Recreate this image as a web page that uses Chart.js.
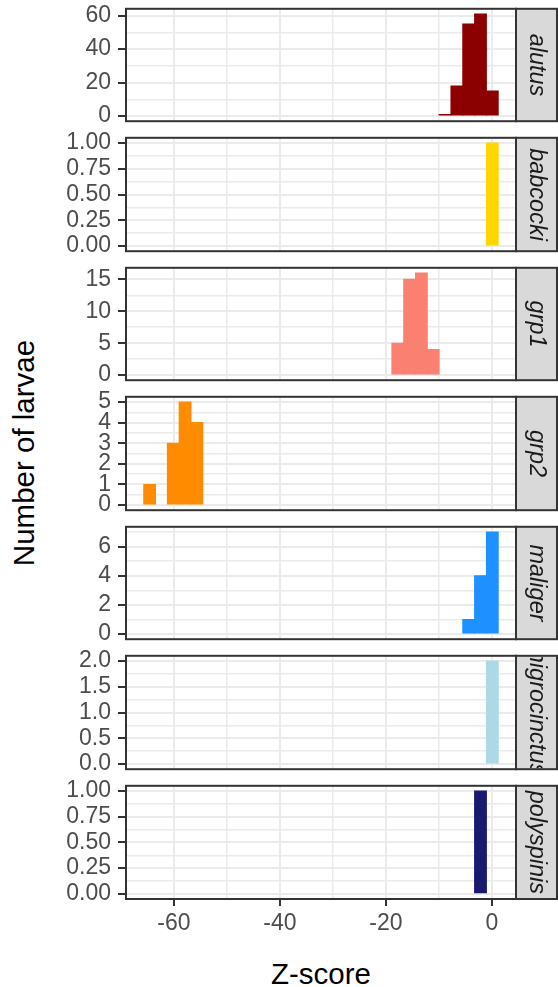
<!DOCTYPE html>
<html>
<head>
<meta charset="utf-8">
<script src="https://cdn.jsdelivr.net/npm/chart.js@4.4.1/dist/chart.umd.min.js"></script>
<style>
  html, body { margin: 0; padding: 0; background: #ffffff; }
  #fig { position: relative; width: 558px; height: 987px; overflow: hidden; background: #ffffff;
         font-family: "Liberation Sans", Arial, sans-serif; }
  #fig canvas { position: absolute; left: 0; }
  .ytitle { position: absolute; left: 23.5px; top: 453px; transform: translate(-50%, -50%) rotate(-90deg);
            font-size: 29.5px; line-height: 29.5px; white-space: nowrap; color: #000000; }
  .xtitle { position: absolute; left: 321px; top: 973.7px; transform: translate(-50%, -50%);
            font-size: 29.5px; line-height: 29.5px; white-space: nowrap; color: #000000; }
</style>
</head>
<body>
<div id="fig">
  <div class="ytitle">Number of larvae</div>
  <div class="xtitle">Z-score</div>
</div>
<script>
// Histogram bin centres on the Z-score axis (30 bins, width about 2.23)
const binCenters = [
  -64.59, -62.36, -60.13, -57.90, -55.67, -53.44, -51.21, -48.98, -46.75, -44.52,
  -42.29, -40.06, -37.83, -35.60, -33.37, -31.14, -28.91, -26.68, -24.45, -22.22,
  -19.99, -17.76, -15.53, -13.30, -11.07, -8.84, -6.61, -4.38, -2.15, 0.08
];

// Facet names, one panel each
const species = ['alutus', 'babcocki', 'grp1', 'grp2', 'maliger', 'nigrocinctus', 'polyspinis'];

// Larvae counts per bin
const alutusCounts       = [0,0,0,0,0, 0,0,0,0,0, 0,0,0,0,0, 0,0,0,0,0, 0,0,0,0,0, 1,18,55,61,15];
const babcockiCounts     = [0,0,0,0,0, 0,0,0,0,0, 0,0,0,0,0, 0,0,0,0,0, 0,0,0,0,0, 0,0,0,0,1];
const grp1Counts         = [0,0,0,0,0, 0,0,0,0,0, 0,0,0,0,0, 0,0,0,0,0, 0,5,15,16,4, 0,0,0,0,0];
const grp2Counts         = [1,0,3,5,4, 0,0,0,0,0, 0,0,0,0,0, 0,0,0,0,0, 0,0,0,0,0, 0,0,0,0,0];
const maligerCounts      = [0,0,0,0,0, 0,0,0,0,0, 0,0,0,0,0, 0,0,0,0,0, 0,0,0,0,0, 0,0,1,4,7];
const nigrocinctusCounts = [0,0,0,0,0, 0,0,0,0,0, 0,0,0,0,0, 0,0,0,0,0, 0,0,0,0,0, 0,0,0,0,2];
const polyspinisCounts   = [0,0,0,0,0, 0,0,0,0,0, 0,0,0,0,0, 0,0,0,0,0, 0,0,0,0,0, 0,0,0,1,0];

const speciesCounts = [alutusCounts, babcockiCounts, grp1Counts, grp2Counts,
                       maligerCounts, nigrocinctusCounts, polyspinisCounts];

// Fill colour per species
const speciesColors = ['#8B0000', '#FFD700', '#FA8072', '#FF8C00', '#1E90FF', '#ADD8E6', '#191970'];

// Labelled y ticks per panel and their decimals
const alutusTicks       = [0, 20, 40, 60];
const babcockiTicks     = [0, 0.25, 0.5, 0.75, 1];
const grp1Ticks         = [0, 5, 10, 15];
const grp2Ticks         = [0, 1, 2, 3, 4, 5];
const maligerTicks      = [0, 2, 4, 6];
const nigrocinctusTicks = [0, 0.5, 1, 1.5, 2];
const polyspinisTicks   = [0, 0.25, 0.5, 0.75, 1];
const yTickSets = [alutusTicks, babcockiTicks, grp1Ticks, grp2Ticks, maligerTicks, nigrocinctusTicks, polyspinisTicks];
const yTickDecimals = [0, 2, 0, 0, 0, 1, 2];

// Labelled x ticks (shared Z-score axis)
const xTickLabels = [-60, -40, -20, 0];
const xMin = -69.05, xMax = 4.55;

// ---- layout ----
const FONT = '"Liberation Sans", Arial, sans-serif';
const PANEL_TOP0 = 8, PANEL_STEP = 129.5, PANEL_H = 114;
const AXIS_W = 126, STRIP_W = 41, PAD = 20, XAXIS_H = 50;

// Major ticks plus a minor one half-way between each pair, kept inside the scale
function withMinor(major, lo, hi) {
  const step = major[1] - major[0];
  const out = [];
  major.forEach(v => {
    out.push({ value: v, major: true });
    out.push({ value: v - step / 2, major: false });
    out.push({ value: v + step / 2, major: false });
  });
  const seen = new Set();
  return out
    .filter(t => t.value >= lo && t.value <= hi)
    .filter(t => { const k = t.value.toFixed(6); if (seen.has(k)) return false; seen.add(k); return true; })
    .sort((a, b) => a.value - b.value);
}

// Panel border and the grey facet strip with its italic label
const facetFrame = {
  id: 'facetFrame',
  afterDraw(chart, args, opts) {
    const { ctx, chartArea: a } = chart;
    const h = a.bottom - a.top;
    ctx.save();
    ctx.fillStyle = '#D9D9D9';
    ctx.fillRect(a.right, a.top, STRIP_W, h);
    ctx.save();
    ctx.beginPath();
    ctx.rect(a.right + 1, a.top + 1, STRIP_W - 2, h - 2);
    ctx.clip();
    ctx.translate(a.right + STRIP_W / 2, (a.top + a.bottom) / 2);
    ctx.rotate(Math.PI / 2);
    ctx.font = 'italic 23.5px ' + FONT;
    ctx.fillStyle = '#1A1A1A';
    ctx.textAlign = 'center';
    ctx.textBaseline = 'middle';
    ctx.fillText(opts.label, 0, 0);
    ctx.restore();
    ctx.strokeStyle = '#333333';
    ctx.lineWidth = 2;
    ctx.strokeRect(a.right, a.top, STRIP_W, h);
    ctx.strokeRect(a.left, a.top, a.right - a.left, h);
    ctx.restore();
  }
};

const fig = document.getElementById('fig');

species.forEach((name, i) => {
  const last = i === species.length - 1;
  const counts = speciesCounts[i];
  const yMaxData = Math.max(...counts);
  const yLo = -0.05 * yMaxData, yHi = 1.05 * yMaxData;
  const dec = yTickDecimals[i];

  const panelTop = PANEL_TOP0 + PANEL_STEP * i;
  const canvasTop = Math.floor(panelTop) - PAD;
  const padTop = panelTop - canvasTop;
  const below = last ? XAXIS_H + 2 : PAD;
  const canvasH = Math.ceil(padTop + PANEL_H + below);
  const padBottom = canvasH - padTop - PANEL_H - (last ? XAXIS_H : 0);

  const canvas = document.createElement('canvas');
  canvas.width = 558;
  canvas.height = canvasH;
  canvas.style.top = canvasTop + 'px';
  canvas.style.width = '558px';
  canvas.style.height = canvasH + 'px';
  fig.appendChild(canvas);

  new Chart(canvas, {
    type: 'bar',
    data: {
      datasets: [{
        label: name,
        data: binCenters.map((x, k) => ({ x: x, y: counts[k] })),
        backgroundColor: speciesColors[i],
        borderWidth: 0,
        barPercentage: 1,
        categoryPercentage: 1,
        inflateAmount: c => (c.raw && c.raw.y > 0 ? 0.5 : 0)
      }]
    },
    options: {
      responsive: false,
      animation: false,
      events: [],
      layout: { padding: { left: 0, right: STRIP_W + 1, top: padTop, bottom: padBottom } },
      plugins: {
        legend: { display: false },
        tooltip: { enabled: false },
        facetFrame: { label: name }
      },
      scales: {
        x: {
          type: 'linear',
          offset: false,
          min: xMin,
          max: xMax,
          afterBuildTicks: s => { s.ticks = withMinor(xTickLabels, xMin, xMax); },
          afterFit: s => { s.height = last ? XAXIS_H : 0; },
          border: { display: false },
          grid: {
            offset: false,
            color: '#EBEBEB',
            lineWidth: c => (c.tick && c.tick.major ? 2 : 1.5),
            drawTicks: last,
            tickLength: 7,
            tickWidth: 2,
            tickColor: c => (c.tick && c.tick.major ? '#333333' : 'rgba(0,0,0,0)')
          },
          ticks: {
            display: last,
            autoSkip: false,
            maxRotation: 0,
            padding: 4,
            color: '#4D4D4D',
            font: { family: FONT, size: 23 },
            callback: (v, idx, ticks) => (ticks[idx].major ? String(v) : '')
          }
        },
        y: {
          type: 'linear',
          min: yLo,
          max: yHi,
          afterBuildTicks: s => { s.ticks = withMinor(yTickSets[i], yLo, yHi); },
          afterFit: s => { s.width = AXIS_W; },
          border: { display: false },
          grid: {
            color: '#EBEBEB',
            lineWidth: c => (c.tick && c.tick.major ? 2 : 1.5),
            drawTicks: true,
            tickLength: 8,
            tickWidth: 2,
            tickColor: c => (c.tick && c.tick.major ? '#333333' : 'rgba(0,0,0,0)')
          },
          ticks: {
            autoSkip: false,
            padding: 7,
            color: '#4D4D4D',
            font: { family: FONT, size: 23 },
            callback: (v, idx, ticks) => (ticks[idx].major ? v.toFixed(dec) : '')
          }
        }
      }
    },
    plugins: [facetFrame]
  });
});
</script>
</body>
</html>
